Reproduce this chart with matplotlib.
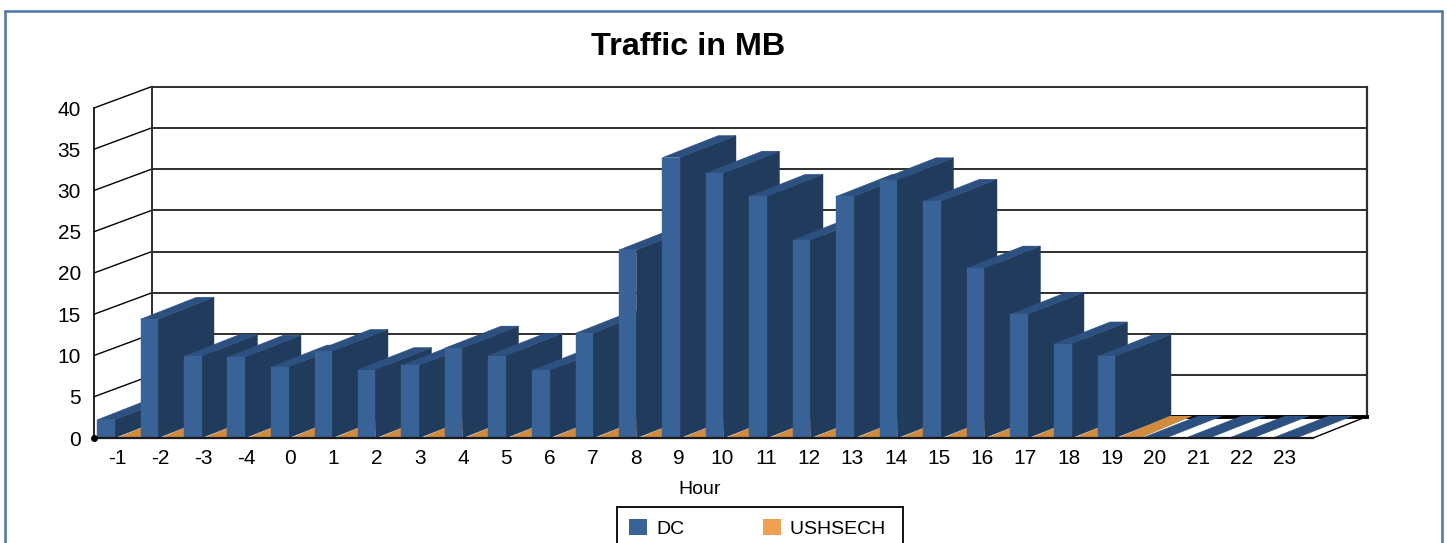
import numpy as np
import matplotlib
matplotlib.use("Agg")
import matplotlib.pyplot as plt
from matplotlib.lines import Line2D
from matplotlib.patches import Patch

plt.rcParams['font.family'] = ['Liberation Sans', 'DejaVu Sans']

hours = ['-1','-2','-3','-4','0','1','2','3','4','5','6','7','8','9','10','11',
         '12','13','14','15','16','17','18','19','20','21','22','23']
dc = [2.2,14.4,9.9,9.8,8.6,10.5,8.3,8.8,10.9,10.0,8.2,12.7,22.8,34.0,32.1,29.3,
      24.0,29.3,31.3,28.7,20.6,15.0,11.4,9.9,0,0,0,0]
ushsech = [0]*24 + [np.nan]*4
y_ticks = [0,5,10,15,20,25,30,35,40]

W, H = 1447, 543
C_FRONT, C_SIDE, C_TOP = '#396396', '#213b5c', '#2c5080'
C_ORANGE, C_LEG = '#d08b3e', '#efa050'
C_BORDER, C_GRID = '#5479a8', '#2e2e2e'

fig = plt.figure(figsize=(W/100, H/100), dpi=100, facecolor='white')
L, R, T, B = 94, 1313, 108, 438          # front plane in pixels
ax = fig.add_axes([L/W, 1-B/H, (R-L)/W, (B-T)/H])
STEP = 43.5
ax.set_xlim((L-97)/STEP, (R-97)/STEP)
ax.set_ylim(0, 40)
ax.set_facecolor('none')
for s in ax.spines.values():
    s.set_visible(False)

PX = 8.25                                # pixels per value unit
DX, DY = 57/STEP, 21.5/PX                # depth of the wall
BX, BY = 56/STEP, 22/PX                  # depth of a bar
x_left, x_right = ax.get_xlim()
wall_l, wall_r = x_left + 58/STEP, x_right + 54/STEP

# walls and floor
for v in y_ticks:
    ax.plot([wall_l, wall_r], [v+DY, v+DY], color=C_GRID, lw=1.4, clip_on=False, zorder=1,
            solid_capstyle='projecting')
    ax.plot([x_left, wall_l], [v, v+DY], color='black', lw=1.0, clip_on=False, zorder=1)
ax.plot([wall_l, wall_l], [DY, 40+DY], color=C_GRID, lw=1.4, clip_on=False, zorder=1)
ax.plot([wall_r, wall_r], [DY, 40+DY], color=C_GRID, lw=1.6, clip_on=False, zorder=1)
ax.plot([wall_l, wall_r], [DY-0.1, DY-0.1], color='black', lw=2.8, clip_on=False, zorder=1)
ax.plot([x_left, x_left], [0, 40], color='black', lw=1.2, clip_on=False, zorder=2)
ax.plot([x_right, wall_r], [0, DY], color='black', lw=1.0, clip_on=False, zorder=1)

# bars
BW, OFF, OW, ZW = 17.5/STEP, 20/STEP, 23/STEP, 24/STEP
for i, v in enumerate(dc):
    z = 3 + i
    w = BW if v > 0 else ZW
    x0 = i + (0 if v > 0 else 1/STEP)
    x1 = x0 + w
    if v > 0:
        ax.fill([x1, x1+BX, x1+BX, x1], [0, BY, v+BY, v], color=C_SIDE, ec=C_SIDE, lw=0.3, zorder=z, clip_on=False)
    ax.fill([x0, x1, x1+BX, x0+BX], [v, v, v+BY, v+BY], color=C_TOP, ec=C_TOP, lw=0.3, zorder=z, clip_on=False)
    if v > 0:
        ax.bar(x0, v, width=w, align='edge', color=C_FRONT, ec=C_FRONT, lw=0.3, zorder=z+0.1, clip_on=False)
    o = ushsech[i]
    if not np.isnan(o):
        a, b = i + OFF, i + OFF + OW
        ax.fill([a, b, b+BX*0.93, a+BX*0.93], [o, o, o+BY, o+BY], color=C_ORANGE, lw=0,
                zorder=z+0.2, clip_on=False)

# front floor edge, on top of the bars
ax.plot([x_left, x_right], [0, 0], color='#1a1a1a', lw=1.6, clip_on=False, zorder=40)
ax.plot([x_left], [0], 'o', color='black', ms=4, clip_on=False, zorder=41)

# axis text
ax.set_yticks(y_ticks, [str(v) for v in y_ticks])
tick_x = [i*(43.25/STEP) + 0.46 for i in range(len(hours))]
ax.set_xticks(tick_x, hours)
ax.tick_params(axis='both', length=0, labelsize=15)
ax.tick_params(axis='y', pad=9.5)
ax.tick_params(axis='x', pad=8)
ax.set_xlabel('Hour', fontsize=14)
ax.xaxis.set_label_coords((700-L)/(R-L), -(481-B)/(B-T), transform=ax.transAxes)
ax.xaxis.label.set_va('top')
ax.set_title('Traffic in MB', fontsize=23.3, fontweight='bold', color='black', pad=0,
             x=(688-L)/(R-L), y=(B-55)/(B-T), va='baseline')

# legend, whose lower edge falls just below the foot of the picture
handles = [Patch(facecolor=C_FRONT, label='DC'), Patch(facecolor=C_LEG, label='USHSECH ')]
leg = fig.legend(handles=handles, ncol=2, loc='upper left', mode='expand',
                 bbox_to_anchor=(617/W, 1-507/H-0.05, 286/W, 0.05), borderaxespad=0,
                 fontsize=14, fancybox=False, edgecolor='black', framealpha=1,
                 handlelength=0.9, handleheight=0.9, handletextpad=0.5, borderpad=0.62)
leg.get_frame().set_linewidth(1.3)

# outer frame, open at the foot
xs = np.array([5.3, 5.3, 1442, 1442]) / W
ys = 1 - np.array([H+5, 10.7, 10.7, H+5]) / H
fig.add_artist(Line2D(xs, ys, color=C_BORDER, lw=1.9, solid_joinstyle='miter'))

fig.savefig('out.png', dpi=100)
